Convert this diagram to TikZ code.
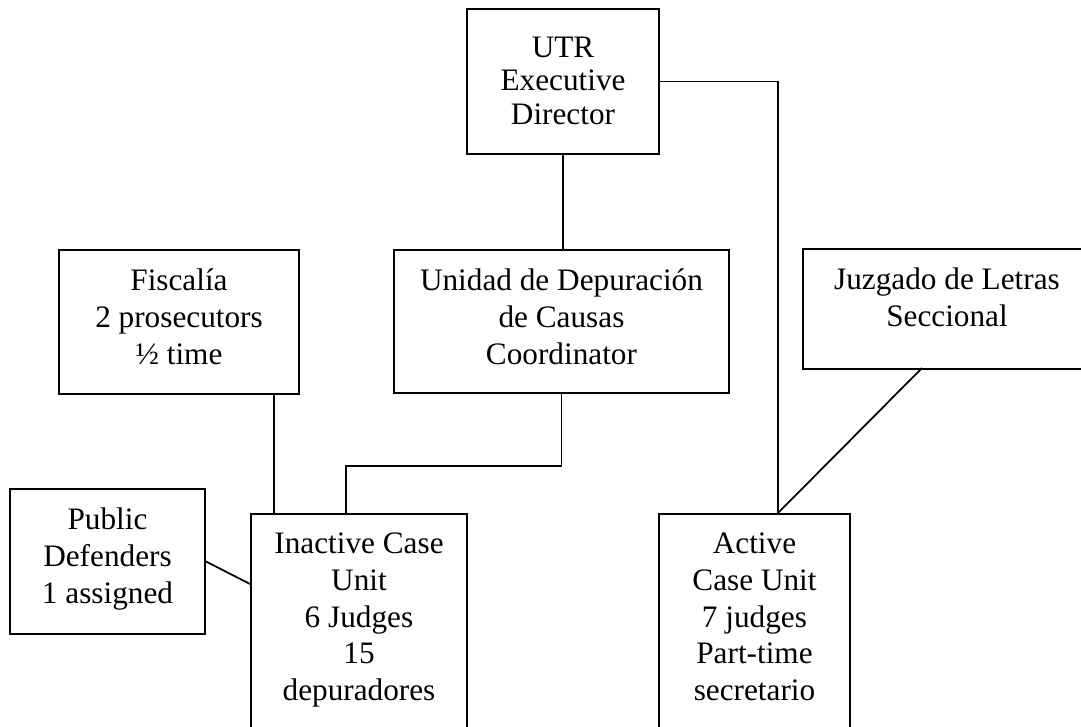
\documentclass[tikz,border=0pt]{standalone}
\usepackage{fontspec}
\setmainfont{Liberation Serif}

\begin{document}
\begin{tikzpicture}[x=0.4pt,y=-0.4pt,
    box/.style={draw, line width=0.8pt, inner sep=0pt, anchor=north west},
    boxtext/.style={anchor=north, align=center, inner sep=0pt, yshift=-7.8pt,
      font=\fontsize{12.5}{14.7}\selectfont},
    link/.style={line width=0.7pt}]
    \useasboundingbox (0,0) rectangle (1081,727);
    \clip (0,0) rectangle (1081,727);
    %
    \node[box, minimum width=76.8pt, minimum height=58pt,
      label={[boxtext, yshift=-3.5pt, font=\fontsize{12.5}{13.4}\selectfont]north:{UTR\\Executive\\Director}}] (utr) at (466,8) {};
    \node[box, minimum width=96pt, minimum height=57.6pt,
      label={[boxtext]north:{Fiscalía\\2 prosecutors\\½ time}}] (fisc) at (58,249) {};
    \node[box, minimum width=134pt, minimum height=57.2pt,
      label={[boxtext]north:{Unidad de Depuración\\de Causas\\Coordinator}}] (unidad) at (393,249) {};
    \node[box, minimum width=115.2pt, minimum height=48pt,
      label={[boxtext]north:{Juzgado de Letras\\Seccional}}] (juzgado) at (802,248) {};
    \node[box, minimum width=78pt, minimum height=58pt,
      label={[boxtext]north:{Public\\Defenders\\1 assigned}}] (public) at (9,488) {};
    \node[box, minimum width=86.4pt, minimum height=104pt,
      label={[boxtext]north:{Inactive Case\\Unit\\6 Judges\\15\\depuradores}}] (inactive) at (250,513) {};
    \node[box, minimum width=76.4pt, minimum height=104pt,
      label={[boxtext]north:{Active\\Case Unit\\7 judges\\Part-time\\secretario}}] (active) at (658,513) {};
    %
    \coordinate (activetop) at (778,513);
    \coordinate (inacttop) at (346,513);
    \coordinate (fiscfoot) at (274,393);
    \coordinate (inactside) at (250,584);
    \coordinate (juzfoot) at (922,368);
    %
    \draw[link] (utr.east) -| (activetop);
    \draw[link] (utr.south) -- (utr.south |- unidad.north);
    \draw[link] (unidad.south) -- ++(0,72) -| (inacttop);
    \draw[link] (fiscfoot) -- (fiscfoot |- inactive.north);
    \draw[link] (public.east) -- (inactside);
    \draw[link] (juzfoot) -- (activetop);
\end{tikzpicture}
\end{document}
